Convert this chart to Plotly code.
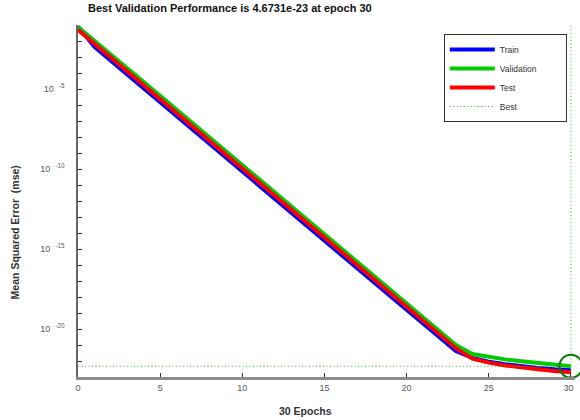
import plotly.graph_objects as go

epochs = list(range(0, 31))

train_mse = [7.94e-2, 4.27e-3, 5.89e-4, 7.94e-5, 1.10e-5, 1.48e-6, 2.04e-7, 2.75e-8,
             3.80e-9, 5.13e-10, 7.08e-11, 9.55e-12, 1.32e-12, 1.78e-13, 2.45e-14,
             3.31e-15, 4.57e-16, 6.17e-17, 8.51e-18, 1.15e-18, 1.58e-19, 2.14e-20,
             2.95e-21, 4.17e-22, 1.58e-22, 8.91e-23, 6.31e-23, 4.68e-23, 3.72e-23,
             3.02e-23, 2.63e-23]

validation_mse = [7.59e-2, 1.00e-2, 1.48e-3, 2.00e-4, 2.75e-5, 3.72e-6, 5.13e-7, 6.92e-8,
                  9.55e-9, 1.29e-9, 1.78e-10, 2.40e-11, 3.31e-12, 4.47e-13, 6.17e-14,
                  8.32e-15, 1.15e-15, 1.55e-16, 2.14e-17, 2.88e-18, 3.98e-19, 5.37e-20,
                  7.41e-21, 1.00e-21, 2.75e-22, 1.78e-22, 1.26e-22, 9.55e-23, 7.41e-23,
                  5.89e-23, 4.6731e-23]

test_mse = [5.01e-2, 6.76e-3, 9.33e-4, 1.26e-4, 1.74e-5, 2.34e-6, 3.24e-7, 4.37e-8,
            6.03e-9, 8.13e-10, 1.12e-10, 1.51e-11, 2.09e-12, 2.82e-13, 3.89e-14,
            5.25e-15, 7.24e-16, 9.77e-17, 1.35e-17, 1.82e-18, 2.51e-19, 3.39e-20,
            4.68e-21, 6.31e-22, 1.41e-22, 7.94e-23, 5.25e-23, 3.80e-23, 3.02e-23,
            2.40e-23, 2.00e-23]

best_epoch = 30
best_value = 4.6731e-23

y_min, y_max = 1e-23, 1e-1
x_ticks = [0, 5, 10, 15, 20, 25, 30]
x_tick_text = ["0", "5", "10", "15", "20", "25", "30\u00a0\u00a0"]
y_major = [1e-5, 1e-10, 1e-15, 1e-20]
y_major_text = ["10\u00a0\u00a0<sup>-5</sup>", "10\u00a0\u00a0<sup>-10</sup>",
                "10\u00a0\u00a0<sup>-15</sup>", "10\u00a0\u00a0<sup>-20</sup>"]
y_minor = [10.0 ** (-k) for k in range(2, 23)]

FONT = "Liberation Sans, Arial, sans-serif"

PL, PT, PW, PH = 78, 25, 500, 352   # plot area in pixels


def px(xs):
    return (xs - PL) / PW


def py(ys):
    return 1 - (ys - PT) / PH


fig = go.Figure()
fig.add_trace(go.Scatter(x=epochs, y=train_mse, mode="lines", name="Train",
                         line=dict(color="#0000ff", width=4)))
fig.add_trace(go.Scatter(x=epochs, y=validation_mse, mode="lines",
                         name="Validation" + "\u00a0" * 10,
                         line=dict(color="#00cc00", width=4)))
fig.add_trace(go.Scatter(x=epochs, y=test_mse, mode="lines", name="Test",
                         line=dict(color="#ff0000", width=4)))
fig.add_trace(go.Scatter(x=[0, best_epoch, None, best_epoch, best_epoch],
                         y=[best_value, best_value, None, y_min, y_max],
                         mode="lines", name="Best",
                         line=dict(color="#33aa33", width=1, dash="1px,2.5px")))
fig.add_trace(go.Scatter(x=[best_epoch], y=[best_value], mode="markers",
                         showlegend=False, cliponaxis=False,
                         marker=dict(symbol="circle-open", size=23, color="#0a7a0a",
                                     line=dict(width=2, color="#0a7a0a"))))

fig.update_layout(
    width=580, height=420,
    margin=dict(l=78, r=2, t=25, b=43),
    paper_bgcolor="white", plot_bgcolor="white",
    font=dict(family=FONT, size=9, color="#444"),
    showlegend=True,
    legend=dict(x=px(446), xref="paper", y=py(34), xanchor="left", yanchor="top",
                bgcolor="white", bordercolor="#333", borderwidth=1,
                font=dict(size=8.5, color="#333", family=FONT),
                itemwidth=45, tracegroupgap=0),
    annotations=[
        dict(text="<b>Best Validation Performance is 4.6731e-23 at epoch 30</b>",
             xref="paper", yref="paper", x=px(231), y=py(8),
             xanchor="center", yanchor="middle", showarrow=False,
             font=dict(size=11, color="#111", family=FONT)),
        dict(text="<b>30 Epochs</b>", xref="paper", yref="paper",
             x=px(307), y=py(411), xanchor="center", yanchor="middle",
             showarrow=False, font=dict(size=10.5, color="#333", family=FONT)),
        dict(text="<b>Mean Squared Error  (mse)</b>", xref="paper", yref="paper",
             x=px(15), y=py(232), xanchor="center", yanchor="middle",
             textangle=-90, showarrow=False, font=dict(size=10.5, color="#333", family=FONT)),
    ],
)

fig.update_xaxes(range=[0, 30.25], tickmode="array", tickvals=x_ticks, ticktext=x_tick_text,
                 showgrid=False, zeroline=False, showline=True, linecolor="#8c8c8c",
                 linewidth=2.5, ticks="inside", ticklen=4, tickcolor="#333", tickwidth=1,
                 tickfont=dict(size=9, color="#555"), mirror=False,
                 ticklabeloverflow="allow")
fig.update_yaxes(type="log", range=[-23, -1], tickmode="array", tickvals=y_major,
                 ticktext=y_major_text, showgrid=False, zeroline=False, showline=True,
                 linecolor="#666", linewidth=1.5, ticks="inside", ticklen=4,
                 tickcolor="#333", tickwidth=1, tickfont=dict(size=9, color="#555"),
                 ticklabelstandoff=10,
                 minor=dict(tickvals=y_minor, ticks="inside", ticklen=4,
                            tickcolor="#333", tickwidth=1, showgrid=False),
                 mirror=False)

fig.write_html("out.html", config={"displayModeBar": False},
               post_script="document.body.style.margin='0';document.body.style.overflow='hidden';")
